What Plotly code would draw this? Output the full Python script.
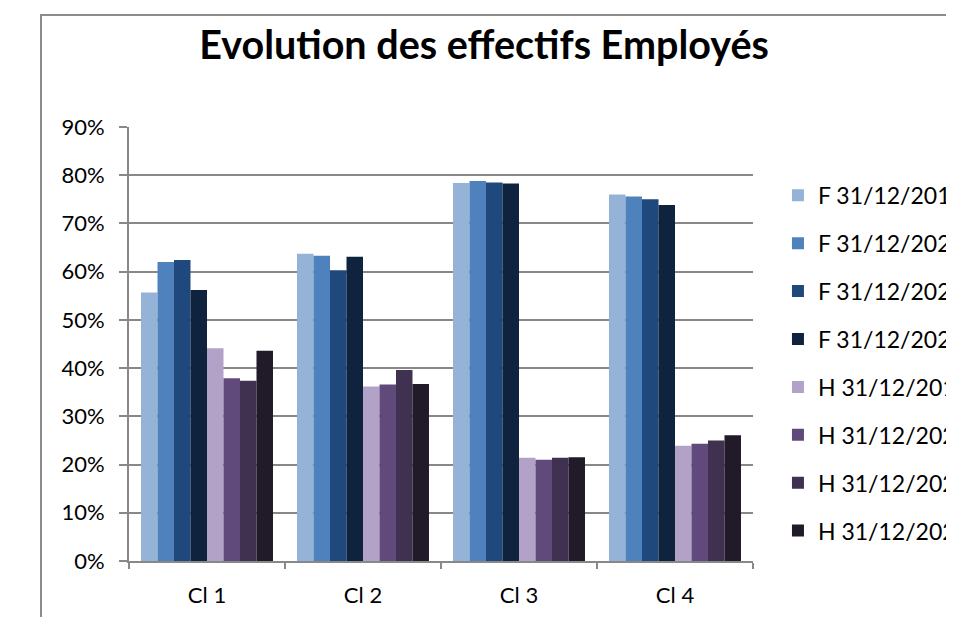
import plotly.graph_objects as go

categories = ["Cl 1", "Cl 2", "Cl 3", "Cl 4"]

series_names = [
    "F 31/12/2019", "F 31/12/2020", "F 31/12/2021", "F 31/12/2022",
    "H 31/12/2019", "H 31/12/2020", "H 31/12/2021", "H 31/12/2022",
]

f_2019 = [0.557, 0.637, 0.784, 0.760]
f_2020 = [0.620, 0.633, 0.788, 0.756]
f_2021 = [0.624, 0.603, 0.785, 0.750]
f_2022 = [0.562, 0.631, 0.783, 0.738]
h_2019 = [0.441, 0.362, 0.214, 0.239]
h_2020 = [0.379, 0.366, 0.210, 0.243]
h_2021 = [0.374, 0.396, 0.214, 0.250]
h_2022 = [0.436, 0.367, 0.215, 0.261]

series_values = [f_2019, f_2020, f_2021, f_2022, h_2019, h_2020, h_2021, h_2022]

colors = ["#95B3D7", "#4F81BD", "#1F497D", "#10233E",
          "#B3A2C7", "#604A7B", "#403151", "#201A29"]

font = "Lato, Carlito, Calibri, sans-serif"
grid = "#888888"

# page body adds an 8px offset, so everything is placed 8px up/left
L, T, PW, PH = 121, 119, 624, 434

fig = go.Figure()
for name, vals, col in zip(series_names, series_values, colors):
    fig.add_trace(go.Bar(name=name, x=categories, y=vals,
                         marker_color=col, marker_line_width=0,
                         legendgroup=name))

fig.update_layout(
    width=954, height=617,
    margin=dict(l=L, r=954 - L - PW, t=T, b=617 - T - PH, autoexpand=False),
    paper_bgcolor="white", plot_bgcolor="white",
    barmode="group", bargap=0.154, bargroupgap=0,
    font=dict(family=font, size=22, color="black"),
    title=dict(text="<b>Evolution des effectifs Employés</b>",
               font=dict(family=font, size=39.5, color="black"),
               x=0.499, xanchor="center", y=0.94, yanchor="middle"),
    legend=dict(x=1.040, xanchor="left", y=0.892, yanchor="top",
                font=dict(size=23), tracegroupgap=15,
                bgcolor="rgba(0,0,0,0)"),
    shapes=[dict(type="rect", xref="paper", yref="paper",
                 x0=(33 - L) / PW, x1=1.5, y0=-0.3, y1=1 + (T - 7) / PH,
                 line=dict(color="#8C8C8C", width=2), layer="below")],
)

fig.update_yaxes(range=[0, 0.9], dtick=0.1, tickformat=".0%",
                 showgrid=True, gridcolor=grid, gridwidth=2,
                 showline=True, linecolor=grid, linewidth=2,
                 ticks="outside", ticklen=8, tickcolor=grid, tickwidth=2,
                 ticklabelstandoff=10, zeroline=False)
fig.update_xaxes(showline=True, linecolor=grid, linewidth=2,
                 ticks="outside", ticklen=6, tickcolor=grid, tickwidth=2,
                 tickson="boundaries", ticklabelstandoff=14)

fig.write_html("out.html")
